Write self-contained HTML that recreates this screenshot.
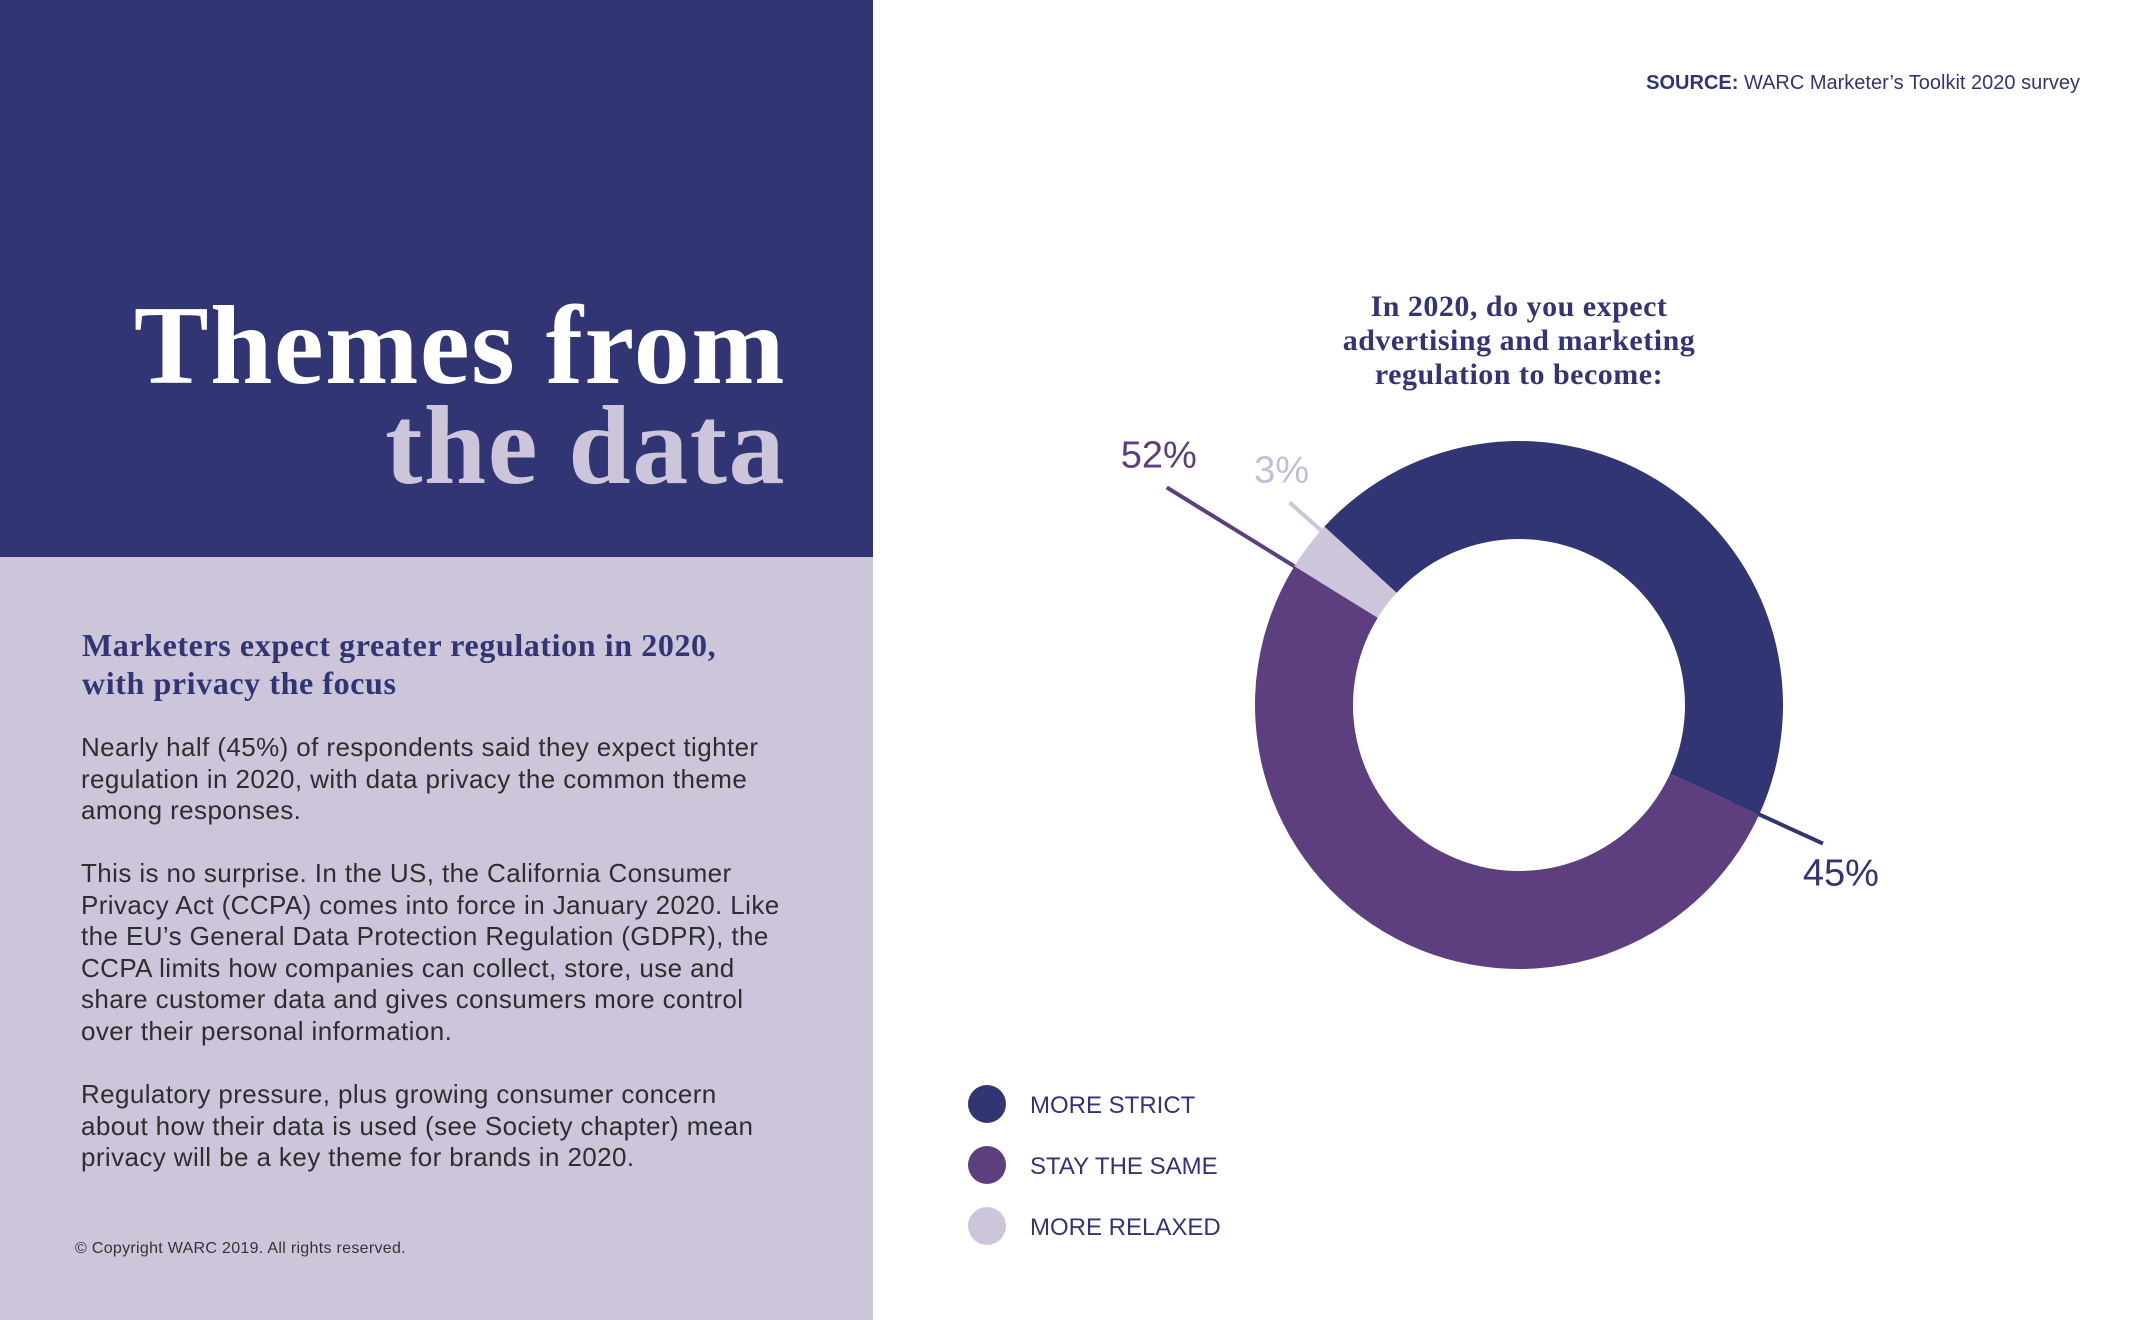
<!DOCTYPE html>
<html><head><meta charset="utf-8">
<style>
html,body{margin:0;padding:0;}
body{width:2133px;height:1320px;position:relative;background:#fff;overflow:hidden;font-family:"Liberation Sans",sans-serif;}
#top{position:absolute;left:0;top:0;width:873px;height:557px;background:#313574;}
#bottom{position:absolute;left:0;top:557px;width:873px;height:763px;background:#cdc5da;}
.title{position:absolute;right:0;width:786px;text-align:right;font-family:"Liberation Serif",serif;font-weight:bold;font-size:112px;line-height:1;letter-spacing:1.5px;}
#sub{position:absolute;left:82px;top:626px;width:780px;font-family:"Liberation Serif",serif;font-weight:bold;font-size:32px;line-height:38px;color:#313574;letter-spacing:0.6px;}
.p{position:absolute;left:81px;width:800px;font-size:26px;line-height:31.5px;color:#2e2e2e;letter-spacing:0.4px;white-space:nowrap;}
#copy{position:absolute;left:75px;top:1240px;font-size:16px;color:#333;letter-spacing:0.3px;}
svg{position:absolute;left:0;top:0;}
</style></head><body>
<div id="top">
<div class="title" style="top:290px;left:0;color:#fff;">Themes from</div>
<div class="title" style="top:390px;left:0;color:#cdc5da;">the data</div>
</div>
<div id="bottom"></div>
<div id="sub">Marketers expect greater regulation in 2020,<br>with privacy the focus</div>
<div class="p" style="top:732px">Nearly half (45%) of respondents said they expect tighter<br>regulation in 2020, with data privacy the common theme<br>among responses.</div>
<div class="p" style="top:858px">This is no surprise. In the US, the California Consumer<br>Privacy Act (CCPA) comes into force in January 2020. Like<br>the EU’s General Data Protection Regulation (GDPR), the<br>CCPA limits how companies can collect, store, use and<br>share customer data and gives consumers more control<br>over their personal information.</div>
<div class="p" style="top:1079px">Regulatory pressure, plus growing consumer concern<br>about how their data is used (see Society chapter) mean<br>privacy will be a key theme for brands in 2020.</div>
<div id="copy">© Copyright WARC 2019. All rights reserved.</div>
<svg id="chart" width="2133" height="1320">
<text x="2080" y="89" text-anchor="end" font-size="20" fill="#313574" font-family="Liberation Sans"><tspan font-weight="bold">SOURCE:</tspan> WARC Marketer’s Toolkit 2020 survey</text>
<g font-family="Liberation Serif" font-weight="bold" font-size="30" fill="#313574" text-anchor="middle" letter-spacing="0.5">
<text x="1519" y="316">In 2020, do you expect</text>
<text x="1519" y="350">advertising and marketing</text>
<text x="1519" y="384">regulation to become:</text>
</g>
<g id="slices"></g>
<g id="legend"></g>
</svg>
<script>
const categories=["MORE STRICT","STAY THE SAME","MORE RELAXED"];
const values=[45,52,3];
const labels=["45%","52%","3%"];
const colors=["#313574","#5d3e7e","#cdc5da"];
const cx=1519,cy=705,R=264,r=166,start=312.5;
const NS="http://www.w3.org/2000/svg";
const g=document.getElementById('slices');
const total=values.reduce((a,b)=>a+b,0);
function pt(a,rad){const t=a*Math.PI/180;return [cx+rad*Math.sin(t),cy-rad*Math.cos(t)];}
let a=start;
values.forEach((v,i)=>{
  const sweep=v/total*360,a2=a+sweep,large=sweep>180?1:0;
  const p1=pt(a,R),p2=pt(a2,R),p3=pt(a2,r),p4=pt(a,r);
  const path=document.createElementNS(NS,'path');
  path.setAttribute('d',`M${p1[0]},${p1[1]}A${R},${R} 0 ${large} 1 ${p2[0]},${p2[1]}L${p3[0]},${p3[1]}A${r},${r} 0 ${large} 0 ${p4[0]},${p4[1]}Z`);
  path.setAttribute('fill',colors[i]);
  
  
  g.appendChild(path);
  let la, ext;
  if(i===0){la=a2;ext=70;} else if(i===1){la=a2;ext=150;} else {la=a+sweep*0.9;ext=42;}
  const q1=pt(la,R-30),q2=pt(la,R+ext);
  const ln=document.createElementNS(NS,'line');
  ln.setAttribute('x1',q1[0]);ln.setAttribute('y1',q1[1]);ln.setAttribute('x2',q2[0]);ln.setAttribute('y2',q2[1]);
  ln.setAttribute('stroke',colors[i]);ln.setAttribute('stroke-width',4);
  
  
  g.appendChild(ln);
  const t=document.createElementNS(NS,'text');
  let tx,ty;
  if(i===0){tx=q2[0]+18;ty=q2[1]+42;} else {tx=q2[0]-8;ty=q2[1]-20;}
  t.setAttribute('x',tx);t.setAttribute('y',ty);
  t.setAttribute('text-anchor','middle');
  t.setAttribute('font-size',38);t.setAttribute('fill',i===2?'#c5bdd6':colors[i]);
  t.setAttribute('font-family','Liberation Sans');
  t.textContent=labels[i];
  
  
  g.appendChild(t);
  a=a2;
});
const lg=document.getElementById('legend');
categories.forEach((c,i)=>{
  const y=1104+i*61;
  const ci=document.createElementNS(NS,'circle');
  ci.setAttribute('cx',987);ci.setAttribute('cy',y);ci.setAttribute('r',19);ci.setAttribute('fill',colors[i]);
  
  
  lg.appendChild(ci);
  const t=document.createElementNS(NS,'text');
  t.setAttribute('x',1030);t.setAttribute('y',y+9);t.setAttribute('font-size',24);t.setAttribute('fill','#313574');
  t.setAttribute('font-family','Liberation Sans');
  t.textContent=c;
  
  
  lg.appendChild(t);
});
</script>
</body></html>
